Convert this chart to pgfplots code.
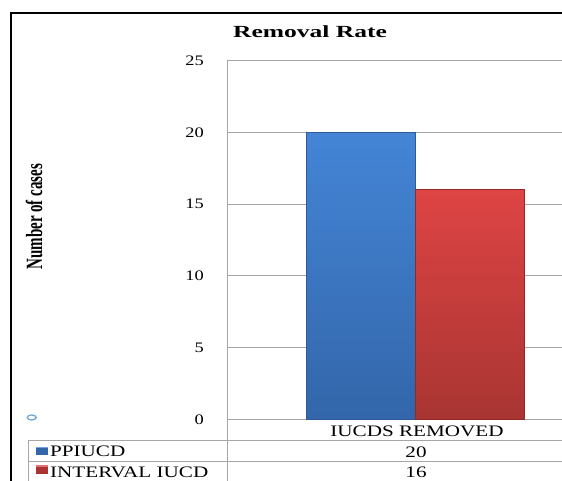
\documentclass[border=0pt]{standalone}
\usepackage{pgfplots}
\pgfplotsset{compat=1.18}
\usepackage{fontspec}
\setmainfont{Liberation Serif}
\usepackage{graphicx}
\definecolor{gridgray}{HTML}{A6A6A6}
\definecolor{bluetop}{HTML}{4485D6}
\definecolor{bluebot}{HTML}{3366AA}
\definecolor{blueedge}{HTML}{2E5A98}
\definecolor{redtop}{HTML}{DE4444}
\definecolor{redbot}{HTML}{A83532}
\definecolor{rededge}{HTML}{8E2B28}
\definecolor{circblue}{HTML}{6FA8DC}
\newcommand{\wide}[2][1.32]{\scalebox{#1}[1]{#2}}
\newcommand{\tabfont}{\fontsize{16}{16}\selectfont}
\newcommand{\tickfont}{\fontsize{14.5}{14.5}\selectfont}
\begin{document}
\begin{tikzpicture}[x=1pt,y=1pt]
\useasboundingbox (0,0) rectangle (562,480);
% outer frame
\draw[black, line width=2pt] (11,-1) -- (11,467) -- (563,467);
\begin{axis}[
  at={(227pt,60.7pt)}, anchor=south west,
  scale only axis, width=335pt, height=358.8pt,
  xmin=0, xmax=335, ymin=0, ymax=25,
  ytick={0,5,...,25}, xtick=\empty,
  axis y line*=left, axis x line*=bottom,
  axis line style={gridgray, line width=1pt, -},
  ymajorgrids, major grid style={gridgray, line width=1pt},
  major tick length=0pt,
  /pgf/number format/assume math mode=true,
  yticklabel={\wide[1.27]{\pgfmathprintnumber{\tick}}},
  yticklabel style={font=\tickfont, anchor=east, inner sep=0pt, xshift=-23pt},
  clip=false,
]
\addplot[ybar, bar width=109, bar shift=0pt, draw=blueedge, line width=0.6pt,
  top color=bluetop, bottom color=bluebot] coordinates {(134.2,20)};
\addplot[ybar, bar width=109, bar shift=0pt, draw=rededge, line width=0.6pt,
  top color=redtop, bottom color=redbot] coordinates {(243.2,16)};
\end{axis}
% title
\node[font=\fontsize{17}{17}\selectfont\bfseries] at (310,448) {\wide[1.5]{Removal Rate}};
% y label
\node[rotate=90, font=\fontsize{15}{15}\selectfont\bfseries] at (34,263.3) {\scalebox{1}[1.55]{Number of cases}};
% small circle
\draw[circblue, line width=1.3pt] (31.7,62.5) ellipse (4.5 and 2.5);
% data table
\draw[gridgray, line width=1pt] (28.3,40) -- (563,40);
\draw[gridgray, line width=1pt] (28.3,18.3) -- (563,18.3);
\draw[gridgray, line width=1pt] (28.3,40) -- (28.3,-1);
\draw[gridgray, line width=1pt] (227,60.7) -- (227,-1);
\node[font=\tabfont, anchor=base, inner sep=0pt] at (417,44) {\wide{IUCDS REMOVED}};
\fill[bluebot] (35.7,25) rectangle (48.3,33.3);
\fill[bluetop!75!white] (35.7,31.6) rectangle (48.3,33.3);
\fill[redbot] (35.7,5.7) rectangle (48.3,15);
\fill[redtop!75!white] (35.7,13.3) rectangle (48.3,15);
\node[font=\tabfont, anchor=base west, inner sep=0pt] at (50,23.3) {\wide{PPIUCD}};
\node[font=\tabfont, anchor=base west, inner sep=0pt] at (50,2.5) {\wide{INTERVAL IUCD}};
\node[font=\tabfont, anchor=base, inner sep=0pt] at (416,22.3) {\wide{20}};
\node[font=\tabfont, anchor=base, inner sep=0pt] at (416,2.5) {\wide{16}};
\end{tikzpicture}
\end{document}
